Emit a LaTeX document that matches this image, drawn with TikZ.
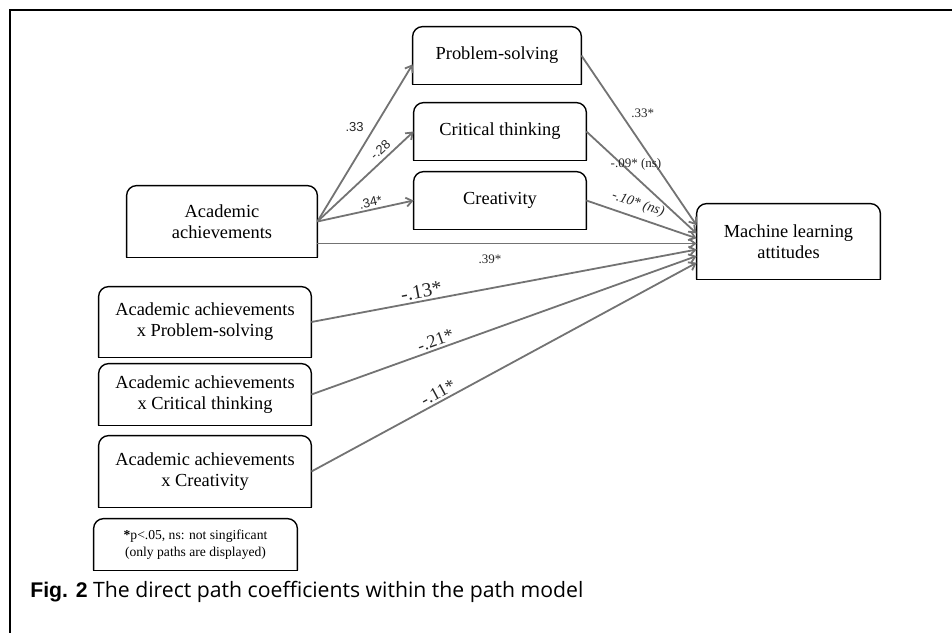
\documentclass[tikz,border=0pt]{standalone}
\usepackage{fontspec}
\setmainfont{Liberation Serif}
\setsansfont{Liberation Sans}
\newfontfamily\capfont{Open Sans}
\usetikzlibrary{arrows.meta}

\tikzset{
  var/.style={inner sep=0pt, align=center, font=\fontsize{9.2}{10.5}\selectfont},
  pathline/.style={draw=black!55, line width=0.9pt, -{Straight Barb[length=3pt,width=4.5pt]}},
  coef/.style={font=\sffamily\fontsize{6.5}{7}\selectfont, inner sep=1pt, text=black!85},
  coefrm/.style={font=\fontsize{6.5}{7}\selectfont, inner sep=1pt, text=black!85},
  coefbig/.style={font=\fontsize{10}{11}\selectfont, inner sep=1pt, text=black!85}
}
% box outline: rounded top corners, square bottom
\newcommand{\roundtop}[1]{%
  \draw[line width=0.7pt, rounded corners=5pt] (#1.south west) -- (#1.north west)
    -- (#1.north east) -- (#1.south east);
  \draw[line width=0.7pt, line cap=rect] (#1.south west) -- (#1.south east);}

\begin{document}
\begin{tikzpicture}[x=0.5pt, y=-0.5pt]
\useasboundingbox (0,0) rectangle (952,633);

% frame
\draw[line width=1pt] (952,10) -- (10,10) -- (10,633);

% variables
\node[var, minimum width=84pt, minimum height=28.5pt] (ps) at (497,55.5) {Problem-solving};
\node[var, minimum width=86pt, minimum height=28.5pt] (ct) at (500,131.5) {Critical thinking};
\node[var, minimum width=86pt, minimum height=28.5pt] (cr) at (500,200.5) {Creativity};
\node[var, minimum width=95pt, minimum height=35.5pt] (aa) at (222,221.5) {Academic\\achievements};
\node[var, minimum width=91.5pt, minimum height=37.5pt] (ml) at (788.5,241.5) {Machine learning\\attitudes};
\node[var, minimum width=106pt, minimum height=35pt] (aps) at (205,322) {Academic achievements\\x Problem-solving};
\node[var, minimum width=106pt, minimum height=30.5pt] (act) at (205,394.5) {Academic achievements\\x Critical thinking};
\node[var, minimum width=106pt, minimum height=35.5pt] (acr) at (205,471.5) {Academic achievements\\x Creativity};
\node[var, minimum width=101.5pt, minimum height=25.5pt, font=\fontsize{6.8}{8.5}\selectfont]
  (note) at (195.5,544.5) {\textbf{*}p<.05, ns: not singificant\\(only paths are displayed)};

\foreach \n in {ps,ct,cr,aa,ml,aps,act,acr,note}
  \roundtop{\n};

% paths
\draw[pathline] (aa.east) -- node[coef, pos=.6, left=4pt] {.33} (ps.186);
\draw[pathline] (aa.east) -- node[coef, pos=.72, sloped, above=1pt] {-.28} (ct.west);
\draw[pathline] (aa.east) -- node[coef, pos=.57, sloped, above] {.34*} (cr.west);
\draw[pathline] (aa.347) -- node[coefrm, pos=.455, below=4pt] {.39*} (aa.347 -| ml.west);

\draw[pathline] (ps.east) -- node[coefrm, pos=.34, right=4pt] {.33*} (ml.170);
\draw[pathline] (ct.east) -- node[coefrm, pos=.45, above=2pt] {-.09* (ns)} (ml.175);
\draw[pathline] (cr.east) -- node[coefrm, pos=.43, sloped, above=2pt, font=\itshape\fontsize{7}{8}\selectfont] {-.10* (ns)} (ml.178);

\draw[pathline] (aps.east) -- node[coefbig, pos=.29, sloped, above] {-.13*} (ml.185);
\draw[pathline] (act.east) -- node[coefbig, pos=.33, sloped, above, font=\fontsize{9}{10}\selectfont] {-.21*} (ml.189);
\draw[pathline] (acr.east) -- node[coefbig, pos=.34, sloped, above, font=\fontsize{9}{10}\selectfont] {-.11*} (ml.193);

% caption
\node[anchor=base west, inner sep=0pt, font=\capfont\fontsize{10.6}{12}\selectfont] (cap) at (30,597)
  {{\sffamily\bfseries Fig. 2} The direct path coefficients within the path model};
\end{tikzpicture}
\end{document}
